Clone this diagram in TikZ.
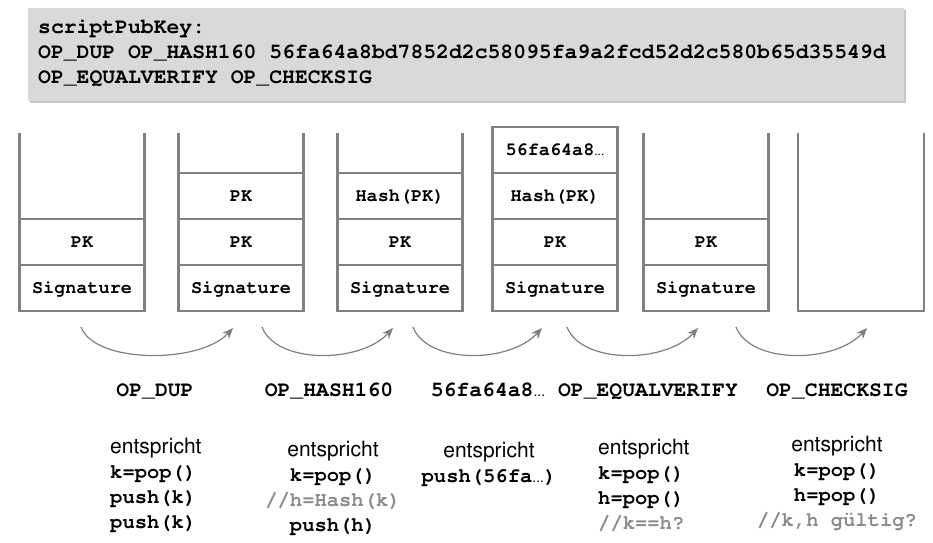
\documentclass[tikz,border=0pt]{standalone}
\usepackage[T1]{fontenc}
\usetikzlibrary{positioning,calc,arrows.meta,shadows}

\definecolor{boxgray}{HTML}{D9D9D9}
\definecolor{linegray}{HTML}{808080}
\definecolor{notegray}{HTML}{8C8C8C}

\newcommand{\codefont}[1]{\fontencoding{T1}\fontfamily{pcr}\fontseries{b}\fontsize{#1}{25}\selectfont}
\newcommand{\helv}{\fontencoding{T1}\fontfamily{phv}\fontseries{m}\fontsize{21}{25}\selectfont}
\newcommand{\trunc}[1][12]{{\fontfamily{phv}\fontseries{m}\fontsize{#1}{#1}\selectfont...}}

\tikzset{
  cell/.style={draw=linegray, line width=2.3pt, outer sep=0pt, inner sep=0pt,
    minimum width=125pt, minimum height=46pt, text height=10.5pt, text depth=0pt,
    font=\codefont{18.5}},
  wall/.style={draw=linegray, line width=2.3pt},
  opname/.style={anchor=base, font=\codefont{21.4}},
  recipe/.style={inner sep=0pt, font=\codefont{20.5}},
  note/.style={text=notegray},
  flow/.style={draw=linegray, line width=1.2pt, -{Stealth[length=11pt,width=9pt]}},
}

\begin{document}
\begin{tikzpicture}[x=1pt,y=-1pt]
    \useasboundingbox (0,0) rectangle (933,542);

    % Script box
    \node[fill=boxgray, minimum width=876pt, minimum height=93pt, inner sep=0pt,
      drop shadow={shadow xshift=2pt, shadow yshift=-2pt, opacity=0.45}] (script) at (466,54.5) {};
    \node[anchor=base west, inner sep=0pt, font=\codefont{21.4}] (line1) at (38,33) {scriptPubKey:};
    \node[anchor=base west, inner sep=0pt, font=\codefont{21.4}] (line2) at (38,58) {OP\_DUP OP\_HASH160 56fa64a8bd7852d2c58095fa9a2fcd52d2c580b65d35549d};
    \node[anchor=base west, inner sep=0pt, font=\codefont{21.4}] (line3) at (38,83) {OP\_EQUALVERIFY OP\_CHECKSIG};

    \coordinate (top) at (0,133);

    % Stack 1
    \node[cell] (sig1) at (82,288) {Signature};
    \node[cell, above=0pt of sig1] (pk1) {PK};
    \draw[wall] (pk1.north west) -- (pk1.north west |- top);
    \draw[wall] (pk1.north east) -- (pk1.north east |- top);

    % Stack 2
    \node[cell] (sig2) at (241,288) {Signature};
    \node[cell, above=0pt of sig2] (pk2) {PK};
    \node[cell, above=0pt of pk2] (dup2) {PK};
    \draw[wall] (dup2.north west) -- (dup2.north west |- top);
    \draw[wall] (dup2.north east) -- (dup2.north east |- top);

    % Stack 3
    \node[cell] (sig3) at (400,288) {Signature};
    \node[cell, above=0pt of sig3] (pk3) {PK};
    \node[cell, above=0pt of pk3] (hash3) {Hash(PK)};
    \draw[wall] (hash3.north west) -- (hash3.north west |- top);
    \draw[wall] (hash3.north east) -- (hash3.north east |- top);

    % Stack 4
    \node[cell] (sig4) at (555,288) {Signature};
    \node[cell, above=0pt of sig4] (pk4) {PK};
    \node[cell, above=0pt of pk4] (hash4) {Hash(PK)};
    \node[cell, above=0pt of hash4] (val4) {56fa64a8\trunc};

    % Stack 5
    \node[cell] (sig5) at (706,288) {Signature};
    \node[cell, above=0pt of sig5] (pk5) {PK};
    \draw[wall] (pk5.north west) -- (pk5.north west |- top);
    \draw[wall] (pk5.north east) -- (pk5.north east |- top);

    % Stack 6 (empty)
    \draw[wall] (798,133) -- (798,311) -- (924,311) -- (924,133);

    % Steps
    \foreach \a/\b [count=\i] in {81/233, 262/393, 413/542, 567/698, 736/867} {
        \coordinate (from\i) at (\a,327);
        \coordinate (to\i) at (\b,328);
        \draw[flow] (from\i) .. controls ($(from\i)+(14,37)$) and ($(to\i)+(-33,36)$) .. (to\i);
    }

    % Operations
    \node[opname] (dup) at (155,396) {OP\_DUP};
    \node[opname] (hash) at (329,396) {OP\_HASH160};
    \node[opname] (push) at (488,396) {56fa64a8\trunc[14]};
    \node[opname] (eqv) at (648,396) {OP\_EQUALVERIFY};
    \node[opname] (chk) at (837,396) {OP\_CHECKSIG};

    % Meaning
    \node[recipe, anchor=north west, align=left] (do1) at (110,438)
        {{\helv entspricht}\\k=pop()\\push(k)\\push(k)};
    \node[recipe, anchor=north, align=center] (do2) at (333,441)
        {{\helv entspricht}\\k=pop()\\{\color{notegray}//h=Hash(k)}\\push(h)};
    \node[recipe, anchor=north, align=center] (do3) at (489,442)
        {{\helv entspricht}\\push(56fa\trunc[14])};
    \node[recipe, anchor=north west, align=left] (do4) at (598,439)
        {{\helv entspricht}\\k=pop()\\h=pop()\\{\color{notegray}//k==h?}};
    \node[recipe, anchor=north, align=center] (do5) at (837,436)
        {{\helv entspricht}\\k=pop()\\h=pop()\\{\color{notegray}//k,h g\"ultig?}};
\end{tikzpicture}
\end{document}
